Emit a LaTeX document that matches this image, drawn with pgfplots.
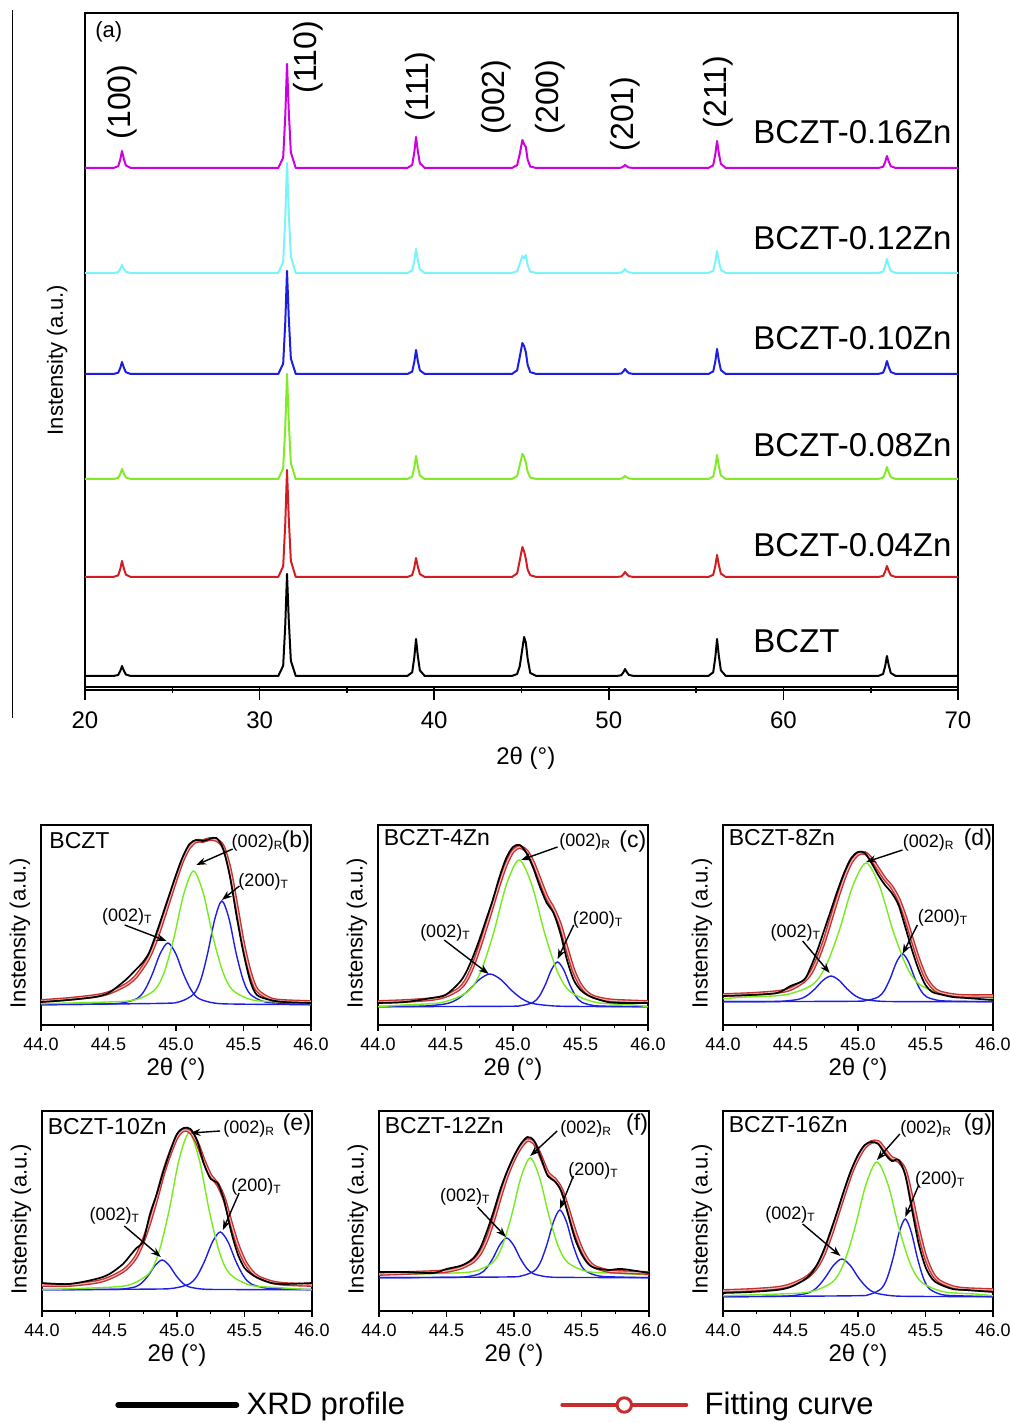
\documentclass[border=0pt]{standalone}
\usepackage{fontspec}
\setmainfont{Liberation Sans}
\usepackage{pgfplots}
\pgfplotsset{compat=1.18}
\usepackage{pgfplotstable}
\usetikzlibrary{arrows.meta}

\definecolor{cmag}{RGB}{205,0,225}
\definecolor{ccyan}{RGB}{120,245,250}
\definecolor{cblue}{RGB}{30,30,225}
\definecolor{cgreen}{RGB}{130,235,40}
\definecolor{cred}{RGB}{210,30,35}
\definecolor{fitred}{RGB}{200,45,45}
\definecolor{lgreen}{RGB}{120,235,30}

\newcommand{\fs}[1]{\fontsize{#1}{#1}\selectfont}

% panel (a): peak heights above each baseline (pixel units)
\pgfplotstableread{
x k r g b c m
20 0 0 0 0 0 0
21.62 0 0 0 0 0 0
21.90 1 1.6 1 1.2 0.8 1.7
22.02 5 8 5 6 4 8.5
22.12 10 16 10 12 8 17
22.22 5.5 8.8 5.5 6.6 4.4 9.4
22.34 1.5 2.4 1.5 1.8 1.2 2.6
22.62 0 0 0 0 0 0
31.07 0 0 0 0 0 0
31.35 10.2 10.7 10.5 10.3 11 10.4
31.47 51 53.5 52.5 51.5 55 52
31.57 102 107 105 103 110 104
31.67 56.1 58.9 57.8 56.7 60.5 57.2
31.79 15.3 16.1 15.8 15.5 16.5 15.6
32.07 0 0 0 0 0 0
38.46 0 0 0 0 0 0
38.74 3.7 1.9 2.3 2.4 2.4 3.1
38.86 18.5 9.5 11.5 12 12 15.5
38.96 37 19 23 24 24 31
39.06 20.4 10.5 12.7 13.2 13.2 17.1
39.18 5.6 2.9 3.5 3.6 3.6 4.7
39.46 0 0 0 0 0 0
44.45 0 0 0 0 0 0
44.75 2 3.6 3 3.7 1.8 2.8
44.90 9.8 16.5 13.8 17.1 9 14
45.05 27.3 30 25 31 17.1 28
45.15 39 25.5 22.5 27.9 14.4 23.8
45.25 33.2 18 16.3 21.7 18 21
45.35 17.6 7.5 7.5 9.3 8.1 8.4
45.50 3.1 1.8 1.5 1.9 1.4 1.4
45.85 0 0 0 0 0 0
50.43 0 0 0 0 0 0
50.71 0.7 0.5 0.3 0.5 0.4 0.3
50.83 3.5 2.5 1.5 2.5 2 1.5
50.93 7 5 3 5 4 3
51.03 3.9 2.8 1.7 2.8 2.2 1.7
51.15 1.1 0.8 0.5 0.8 0.6 0.5
51.43 0 0 0 0 0 0
55.70 0 0 0 0 0 0
55.98 3.7 2.2 2.4 2.5 2.2 2.7
56.10 18.5 11 12 12.5 11 13.5
56.20 37 22 24 25 22 27
56.30 20.4 12.1 13.2 13.8 12.1 14.9
56.42 5.6 3.3 3.6 3.8 3.3 4.1
56.70 0 0 0 0 0 0
65.43 0 0 0 0 0 0
65.71 2 1.1 1.2 1.3 1.4 1.2
65.83 10 5.5 6 6.5 7 6
65.93 20 11 12 13 14 12
66.03 11 6.1 6.6 7.2 7.7 6.6
66.15 3 1.7 1.8 2 2.1 1.8
66.43 0 0 0 0 0 0
70 0 0 0 0 0 0
}\xrd

% panels (b)-(g): measured profile and fitted envelope
\pgfplotstableread{
x xrd fit
44.0 23 24
44.2 25 26
44.4 28 29
44.5 32 32
44.6 42 38
44.65 48 42
44.7 55 48
44.75 62 57
44.8 72 68
44.85 90 84
44.9 110 104
44.95 130 125
45.0 150 146
45.05 168 165
45.1 181 178
45.15 185 184
45.2 184 184
45.25 186 186
45.3 187 185
45.35 176 178
45.4 148 155
45.45 108 118
45.5 72 80
45.55 44 52
45.6 30 35
45.7 25 26
45.8 23 24
46.0 22 23
}\envb
\pgfplotstableread{
x xrd fit
44.0 22 23
44.2 23 24
44.4 27 26
44.5 30 29
44.6 42 36
44.65 52 44
44.7 67 58
44.75 85 77
44.8 105 98
44.85 125 120
44.9 148 142
44.95 167 161
45.0 178 174
45.05 180 178
45.1 172 174
45.15 157 162
45.2 138 145
45.25 122 128
45.3 112 116
45.35 92 100
45.4 65 76
45.45 45 54
45.5 35 40
45.55 30 32
45.6 27 28
45.7 23 25
45.8 22 24
46.0 22 23
}\envc
\pgfplotstableread{
x xrd fit
44.0 29 30
44.2 30 31
44.4 32 33
44.5 39 36
44.6 45 44
44.65 58 52
44.7 75 66
44.75 95 84
44.8 115 106
44.85 135 128
44.9 153 148
44.95 167 163
45.0 173 171
45.05 172 172
45.1 162 166
45.15 150 156
45.2 140 146
45.25 132 138
45.3 120 126
45.35 98 108
45.4 75 86
45.45 55 65
45.5 40 48
45.55 33 38
45.6 31 33
45.7 28 30
45.8 27 29
46.0 25 29
}\envd
\pgfplotstableread{
x xrd fit
44.0 28 26
44.2 27 26
44.4 32 29
44.5 37 33
44.6 47 40
44.65 55 46
44.7 63 55
44.75 70 70
44.8 97 90
44.85 117 113
44.9 140 138
44.95 160 158
45.0 177 174
45.05 183 181
45.1 182 179
45.15 170 168
45.2 147 150
45.25 132 135
45.3 128 127
45.35 110 112
45.4 80 88
45.45 57 66
45.5 43 50
45.55 37 40
45.6 33 34
45.7 28 29
45.8 27 27
46.0 28 26
}\enve
\pgfplotstableread{
x xrd fit
44.0 39 37
44.2 39 38
44.4 38 39
44.5 42 40
44.6 45 43
44.65 48 46
44.7 53 50
44.75 63 58
44.8 80 72
44.85 100 92
44.9 122 115
44.95 140 136
45.0 155 152
45.05 167 164
45.1 174 171
45.15 170 168
45.2 153 154
45.25 135 138
45.3 130 132
45.35 120 122
45.4 97 102
45.45 73 80
45.5 57 62
45.55 47 50
45.6 43 44
45.7 41 40
45.8 42 39
46.0 38 38
}\envf
\pgfplotstableread{
x xrd fit
44.0 18 20
44.2 19 21
44.4 21 23
44.5 24 26
44.6 31 32
44.65 37 37
44.7 47 45
44.75 62 58
44.8 81 76
44.85 101 97
44.9 122 118
44.95 141 138
45.0 156 153
45.05 166 164
45.1 169 169
45.15 167 169
45.2 157 161
45.25 150 153
45.3 151 150
45.35 136 140
45.4 101 112
45.45 67 80
45.5 44 54
45.55 32 38
45.6 27 30
45.7 22 24
45.8 21 22
46.0 19 21
}\envg

\pgfplotsset{
  small/.style={
    width=135pt, height=100pt, scale only axis,
    xmin=44, xmax=46, ymin=0, ymax=200,
    xtick={44,44.5,45,45.5,46}, minor x tick num=1, ytick=\empty,
    xtick pos=bottom, tick align=outside,
    major tick length=3pt, minor tick length=1.6pt,
    axis line style={line width=0.8pt},
    tick style={black, line width=0.6pt},
    /pgf/number format/assume math mode=true,
    xticklabel style={font=\fs{9}, /pgf/number format/.cd, fixed, fixed zerofill, precision=1},
    xlabel={2θ (°)},
    xlabel style={font=\fs{12}, at={(axis description cs:0.5,-0.22)}, anchor=center},
    ylabel={Instensity (a.u.)},
    ylabel style={font=\fs{11}, at={(axis description cs:-0.078,0.46)}, anchor=center},
  },
  comp/.style={smooth, line width=0.7pt, forget plot},
  fitband/.style={fitred, line width=1.9pt, smooth, forget plot},
  fitcore/.style={fitred!35!white, line width=0.55pt, smooth, forget plot},
  prof/.style={black, line width=0.85pt, smooth, forget plot},
  leg/.style={legend cell align=left,
    legend style={at={(axis description cs:#1,-0.47)}, anchor=west, draw=none, fill=none, inner sep=0pt, font=\fs{15.5}}},
}
\tikzset{
  arr/.style={-{Stealth[length=5pt,width=3.6pt]}, line width=0.7pt, black},
  tag/.style={font=\fs{9}, inner sep=0pt, anchor=west},
  pname/.style={font=\fs{11.5}, inner sep=0pt, anchor=west},
  pid/.style={font=\fs{11.5}, inner sep=0pt, anchor=east},
  hkl/.style={rotate=90, inner sep=0pt, font=\fs{16}},
  sname/.style={anchor=west, inner sep=0pt, font=\fs{16.5}},
}

\begin{document}
\begin{tikzpicture}
\useasboundingbox (0,0) rectangle (504.5pt,711.5pt);
\draw[line width=0.5pt] (6pt,352.5pt) -- (6pt,706.5pt);

% ---------- (a) ----------
\begin{axis}[
  at={(42.5pt,368pt)}, anchor=south west,
  width=436.5pt, height=337pt, scale only axis,
  xmin=20, xmax=70, ymin=0, ymax=674, clip=false,
  xtick={20,30,...,70}, minor x tick num=1, ytick=\empty,
  xtick pos=bottom, tick align=outside,
  major tick length=6.5pt, minor tick length=3pt,
  axis line style={line width=1pt},
  tick style={black, line width=0.8pt},
  /pgf/number format/assume math mode=true,
  xticklabel style={font=\fs{12}, yshift=-2.5pt},
  xlabel={2θ (°)},
  xlabel style={font=\fs{12}, at={(axis description cs:0.505,-0.106)}, anchor=center},
  ylabel={Instensity (a.u.)},
  ylabel style={font=\fs{11}, at={(axis description cs:-0.032,0.485)}, anchor=center},
  every axis plot/.append style={line width=1pt, line join=round},
]
\addplot[black] table[x=x, y expr=\thisrow{k}+11] {\xrd};
\addplot[cred] table[x=x, y expr=\thisrow{r}+110] {\xrd};
\addplot[cgreen] table[x=x, y expr=\thisrow{g}+208] {\xrd};
\addplot[cblue] table[x=x, y expr=\thisrow{b}+313] {\xrd};
\addplot[ccyan] table[x=x, y expr=\thisrow{c}+414] {\xrd};
\addplot[cmag] table[x=x, y expr=\thisrow{m}+519] {\xrd};
\draw[line width=0.9pt] ([yshift=-1.6pt]rel axis cs:0,0) -- ([yshift=-1.6pt]rel axis cs:1,0);
\node[anchor=west, inner sep=0pt, font=\fs{11}] at (axis cs:20.57,655) {(a)};
\node[hkl] at (axis cs:22.12,585) {(100)};
\node[hkl] at (axis cs:32.77,630) {(110)};
\node[hkl] at (axis cs:39.19,600) {(111)};
\node[hkl] at (axis cs:43.55,590) {(002)};
\node[hkl] at (axis cs:46.63,590) {(200)};
\node[hkl] at (axis cs:50.93,573) {(201)};
\node[hkl] at (axis cs:56.25,595) {(211)};
\node[sname] at (axis cs:58.26,555) {BCZT-0.16Zn};
\node[sname] at (axis cs:58.26,449) {BCZT-0.12Zn};
\node[sname] at (axis cs:58.26,349) {BCZT-0.10Zn};
\node[sname] at (axis cs:58.26,242) {BCZT-0.08Zn};
\node[sname] at (axis cs:58.26,142) {BCZT-0.04Zn};
\node[sname] at (axis cs:58.26,46) {BCZT};
\end{axis}

% ---------- (b) ----------
\begin{axis}[small, at={(20.5pt,199pt)}, anchor=south west]
\addplot[comp, cblue] coordinates {(44,20.3) (44.434,20.9) (44.595,21.9) (44.71,26.4) (44.768,34.8) (44.825,51) (44.883,71.4) (44.94,82) (44.998,71.4) (45.055,51) (45.113,34.8) (45.17,26.4) (45.285,21.9) (45.446,20.9) (46,20.3)};
\addplot[comp, cblue] coordinates {(44,20.3) (44.878,21.6) (45.025,23.2) (45.13,30.8) (45.183,44.9) (45.235,72) (45.288,106.2) (45.34,124) (45.393,106.2) (45.445,72) (45.498,44.9) (45.55,30.8) (45.655,23.2) (45.802,21.6) (46,20.3)};
\addplot[comp, lgreen] coordinates {(44,21.3) (44.492,23.0) (44.695,25.1) (44.84,34.8) (44.913,52.8) (44.985,87.5) (45.058,131.3) (45.13,154) (45.203,131.3) (45.275,87.5) (45.348,52.8) (45.42,34.8) (45.565,25.1) (45.768,23.0) (46,21.3)};
\addplot[fitband] table[x=x, y=fit] {\envb};
\addplot[fitcore] table[x=x, y=fit] {\envb};
\addplot[prof] table[x=x, y=xrd] {\envb};
\node[pname] at (axis cs:44.06,184) {BCZT};
\node[pid] at (axis cs:45.995,183) {(b)};
\node[tag] at (axis cs:45.41,182) {(002)\textsubscript{R}};
\draw[arr] (axis cs:45.42,176) -- (axis cs:45.15,160);
\node[tag] at (axis cs:45.46,143) {(200)\textsubscript{T}};
\draw[arr] (axis cs:45.47,139) -- (axis cs:45.34,125);
\node[tag] at (axis cs:44.45,108) {(002)\textsubscript{T}};
\draw[arr] (axis cs:44.62,100) -- (axis cs:44.93,84);
\end{axis}

% ---------- (c) ----------
\begin{axis}[small, at={(189pt,199pt)}, anchor=south west]
\addplot[comp, cblue] coordinates {(44,18.3) (44.126,18.5) (44.35,19.0) (44.51,21.4) (44.59,25.9) (44.67,34.5) (44.75,45.4) (44.83,51) (44.91,45.4) (44.99,34.5) (45.07,25.9) (45.15,21.4) (45.31,19.0) (45.534,18.5) (46,18.3)};
\addplot[comp, cblue] coordinates {(44,18.3) (44.934,18.7) (45.06,19.4) (45.15,22.7) (45.195,28.8) (45.24,40.5) (45.285,55.3) (45.33,63) (45.375,55.3) (45.42,40.5) (45.465,28.8) (45.51,22.7) (45.6,19.4) (45.726,18.7) (46,18.3)};
\addplot[comp, lgreen] coordinates {(44,18.3) (44.209,20.2) (44.475,22.6) (44.665,33.3) (44.76,53.1) (44.855,91.5) (44.95,139.9) (45.045,165) (45.14,139.9) (45.235,91.5) (45.33,53.1) (45.425,33.3) (45.615,22.6) (45.881,20.2) (46,18.3)};
\addplot[fitband] table[x=x, y=fit] {\envc};
\addplot[fitcore] table[x=x, y=fit] {\envc};
\addplot[prof] table[x=x, y=xrd] {\envc};
\node[pname] at (axis cs:44.04,187) {BCZT-4Zn};
\node[pid] at (axis cs:45.99,183) {(c)};
\node[tag] at (axis cs:45.34,183) {(002)\textsubscript{R}};
\draw[arr] (axis cs:45.33,178) -- (axis cs:45.06,165);
\node[tag] at (axis cs:45.44,105) {(200)\textsubscript{T}};
\draw[arr] (axis cs:45.45,100) -- (axis cs:45.33,66);
\node[tag] at (axis cs:44.31,92) {(002)\textsubscript{T}};
\draw[arr] (axis cs:44.49,85) -- (axis cs:44.82,51);
\end{axis}

% ---------- (d) ----------
\begin{axis}[small, at={(361.5pt,199pt)}, anchor=south west]
\addplot[comp, cblue] coordinates {(44,23.3) (44.272,23.4) (44.44,23.8) (44.56,25.7) (44.62,29.2) (44.68,36) (44.74,44.6) (44.80,49) (44.86,44.6) (44.92,36) (44.98,29.2) (45.04,25.7) (45.16,23.8) (45.328,23.4) (46,23.3)};
\addplot[comp, cblue] coordinates {(44,23.3) (44.934,23.7) (45.06,24.5) (45.15,28.0) (45.195,34.5) (45.24,47) (45.285,62.8) (45.33,71) (45.375,62.8) (45.42,47) (45.465,34.5) (45.51,28.0) (45.6,24.5) (45.726,23.7) (46,23.3)};
\addplot[comp, lgreen] coordinates {(44,26.3) (44.18,28.0) (44.46,30.2) (44.66,40.1) (44.76,58.5) (44.86,94) (44.96,138.7) (45.06,162) (45.16,138.7) (45.26,94) (45.36,58.5) (45.46,40.1) (45.66,30.2) (45.94,28.0) (46,26.3)};
\addplot[fitband] table[x=x, y=fit] {\envd};
\addplot[fitcore] table[x=x, y=fit] {\envd};
\addplot[prof] table[x=x, y=xrd] {\envd};
\node[pname] at (axis cs:44.04,187) {BCZT-8Zn};
\node[pid] at (axis cs:45.995,185) {(d)};
\node[tag] at (axis cs:45.33,182) {(002)\textsubscript{R}};
\draw[arr] (axis cs:45.33,175) -- (axis cs:45.06,163);
\node[tag] at (axis cs:45.44,107) {(200)\textsubscript{T}};
\draw[arr] (axis cs:45.44,100) -- (axis cs:45.33,71);
\node[tag] at (axis cs:44.35,92) {(002)\textsubscript{T}};
\draw[arr] (axis cs:44.59,84) -- (axis cs:44.79,52);
\end{axis}

% ---------- (e) ----------
\begin{axis}[small, at={(21pt,56pt)}, anchor=south west, leg=0.270]
\addplot[comp, cblue] coordinates {(44,21.3) (44.45,21.5) (44.59,21.9) (44.69,24.1) (44.74,28.2) (44.79,36) (44.84,45.9) (44.89,51) (44.94,45.9) (44.99,36) (45.04,28.2) (45.09,24.1) (45.19,21.9) (45.33,21.5) (46,21.3)};
\addplot[comp, cblue] coordinates {(44,21.3) (44.814,21.9) (44.975,22.8) (45.09,27.0) (45.148,34.9) (45.205,50) (45.263,69.1) (45.32,79) (45.378,69.1) (45.435,50) (45.493,34.9) (45.55,27.0) (45.665,22.8) (45.826,21.9) (46,21.3)};
\addplot[comp, lgreen] coordinates {(44,21.3) (44.43,23.4) (44.64,25.9) (44.79,37.3) (44.865,58.5) (44.94,99.5) (45.015,151.2) (45.09,178) (45.165,151.2) (45.24,99.5) (45.315,58.5) (45.39,37.3) (45.54,25.9) (45.75,23.4) (46,21.3)};
\addplot[fitband] table[x=x, y=fit] {\enve};
\addplot[fitcore] table[x=x, y=fit] {\enve};
\addplot[prof] table[x=x, y=xrd] {\enve};
\addlegendimage{legend image code/.code={\draw[black, line width=3pt, line cap=round] (0pt,0pt) -- (59pt,0pt); \path (62pt,0pt);}}
\addlegendentry{XRD profile}
\node[pname] at (axis cs:44.04,184) {BCZT-10Zn};
\node[pid] at (axis cs:45.995,186) {(e)};
\node[tag] at (axis cs:45.34,182) {(002)\textsubscript{R}};
\draw[arr] (axis cs:45.32,180) -- (axis cs:45.10,178);
\node[tag] at (axis cs:45.40,124) {(200)\textsubscript{T}};
\draw[arr] (axis cs:45.46,118) -- (axis cs:45.34,81);
\node[tag] at (axis cs:44.35,95) {(002)\textsubscript{T}};
\draw[arr] (axis cs:44.61,85) -- (axis cs:44.88,54);
\end{axis}

% ---------- (f) ----------
\begin{axis}[small, at={(189.5pt,56pt)}, anchor=south west, leg=0.670]
\addplot[comp, cblue] coordinates {(44,33.3) (44.505,33.6) (44.645,34.2) (44.745,37.2) (44.795,42.6) (44.845,53) (44.895,66.2) (44.945,73) (44.995,66.2) (45.045,53) (45.095,42.6) (45.145,37.2) (45.245,34.2) (45.385,33.6) (46,33.3)};
\addplot[comp, cblue] coordinates {(44,33.3) (44.922,34.0) (45.055,35.1) (45.15,40.1) (45.198,49.3) (45.245,67) (45.293,89.4) (45.34,101) (45.388,89.4) (45.435,67) (45.483,49.3) (45.53,40.1) (45.625,35.1) (45.758,34.0) (46,33.3)};
\addplot[comp, lgreen] coordinates {(44,36.3) (44.504,37.8) (44.70,39.6) (44.84,48.2) (44.91,64) (44.98,94.5) (45.05,133) (45.12,153) (45.19,133) (45.26,94.5) (45.33,64) (45.40,48.2) (45.54,39.6) (45.736,37.8) (46,36.3)};
\addplot[fitband] table[x=x, y=fit] {\envf};
\addplot[fitcore] table[x=x, y=fit] {\envf};
\addplot[prof] table[x=x, y=xrd] {\envf};
\addlegendimage{legend image code/.code={\draw[fitred, line width=2pt, line cap=round] (0pt,0pt) -- (62pt,0pt); \draw[fitred, line width=1.5pt, fill=white] (31pt,0pt) circle (3.6pt); \path (69pt,0pt);}}
\addlegendentry{Fitting curve}
\node[pname] at (axis cs:44.04,185) {BCZT-12Zn};
\node[pid] at (axis cs:45.995,186) {(f)};
\node[tag] at (axis cs:45.34,182) {(002)\textsubscript{R}};
\draw[arr] (axis cs:45.32,180) -- (axis cs:45.12,155);
\node[tag] at (axis cs:45.40,140) {(200)\textsubscript{T}};
\draw[arr] (axis cs:45.44,135) -- (axis cs:45.34,102);
\node[tag] at (axis cs:44.45,114) {(002)\textsubscript{T}};
\draw[arr] (axis cs:44.73,104) -- (axis cs:44.94,74);
\end{axis}

% ---------- (g) ----------
\begin{axis}[small, at={(361.5pt,56pt)}, anchor=south west]
\addplot[comp, cblue] coordinates {(44,14.3) (44.33,14.6) (44.505,15.2) (44.63,18.0) (44.693,23.1) (44.755,33) (44.818,45.5) (44.88,52) (44.943,45.5) (45.005,33) (45.068,23.1) (45.13,18.0) (45.255,15.2) (45.43,14.6) (46,14.3)};
\addplot[comp, cblue] coordinates {(44,14.3) (44.954,15.2) (45.08,16.4) (45.17,22.1) (45.215,32.6) (45.26,53) (45.305,78.7) (45.35,92) (45.395,78.7) (45.44,53) (45.485,32.6) (45.53,22.1) (45.62,16.4) (45.746,15.2) (46,14.3)};
\addplot[comp, lgreen] coordinates {(44,15.3) (44.414,17.0) (44.645,19.2) (44.81,28.9) (44.893,47) (44.975,82) (45.058,126.1) (45.14,149) (45.223,126.1) (45.305,82) (45.388,47) (45.47,28.9) (45.635,19.2) (45.866,17.0) (46,15.3)};
\addplot[fitband] table[x=x, y=fit] {\envg};
\addplot[fitcore] table[x=x, y=fit] {\envg};
\addplot[prof] table[x=x, y=xrd] {\envg};
\node[pname] at (axis cs:44.04,186) {BCZT-16Zn};
\node[pid] at (axis cs:45.995,186) {(g)};
\node[tag] at (axis cs:45.31,182) {(002)\textsubscript{R}};
\draw[arr] (axis cs:45.31,177) -- (axis cs:45.14,151);
\node[tag] at (axis cs:45.42,131) {(200)\textsubscript{T}};
\draw[arr] (axis cs:45.45,126) -- (axis cs:45.35,94);
\node[tag] at (axis cs:44.31,96) {(002)\textsubscript{T}};
\draw[arr] (axis cs:44.59,87) -- (axis cs:44.87,55);
\end{axis}
\end{tikzpicture}
\end{document}
